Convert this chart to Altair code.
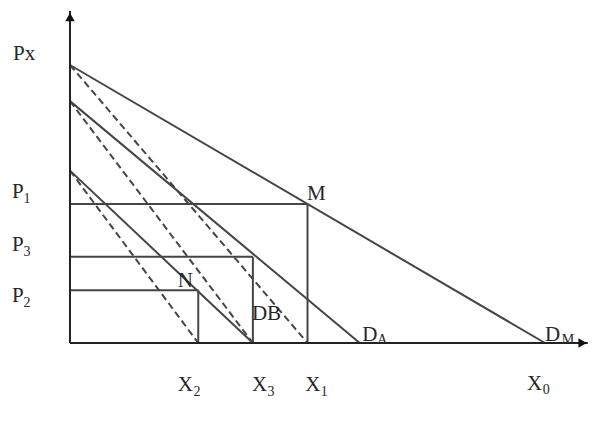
import altair as alt
import pandas as pd

# ---- economic values (quantity units, price units) ----
curve_names = ["DM", "MR_M", "DA", "MR_A", "DB", "MR_B"]
curve_p_intercept = [100, 100, 87, 87, 62, 62]
curve_q_intercept = [100, 50, 61, 38.5, 38.5, 27]
curve_dashed = [False, True, False, True, False, True]

# equilibrium boxes: price level and quantity
box_names = ["P1/X1", "P3/X3", "P2/X2"]
box_price = [50, 31, 19]
box_qty = [50, 38.5, 27]

# axes extents (arrow tips)
y_axis_top = 119.4
x_axis_right = 109.0

# labels: main glyphs and subscripts (text, q, p)
main_text = ["Px", "P", "P", "P", "X", "X", "X", "X", "M", "N", "DB", "D", "D"]
main_q = [-12.0, -12.2, -12.2, -12.2, 22.7, 38.3, 49.5, 96.2, 49.9, 22.7, 38.3, 61.5, 100.0]
main_p = [101.8, 52.2, 33.1, 14.7, -17.3, -17.3, -17.3, -16.9, 51.4, 20.1, 8.3, 0.7, 0.7]

sub_text = ["1", "3", "2", "2", "3", "1", "0", "A", "M"]
sub_q = [-9.8, -9.8, -9.8, 26.0, 41.6, 52.8, 99.5, 64.7, 103.5]
sub_p = [50.4, 31.3, 12.9, -18.9, -18.9, -18.9, -18.2, -0.3, -0.3]

XDOM = [-13.05, 109.68]
YDOM = [-27.34, 120.5]
W, H = 583, 411
LINE = "#454545"
TXT = "#262626"
FONT = "Liberation Serif"

xs = alt.Scale(domain=XDOM, nice=False, zero=False)
ys = alt.Scale(domain=YDOM, nice=False, zero=False)

curves = pd.DataFrame({
    "name": curve_names,
    "q0": [0] * len(curve_names),
    "p0": curve_p_intercept,
    "q1": curve_q_intercept,
    "p1": [0] * len(curve_names),
    "dashed": curve_dashed,
})

rows = []
for n, pr, qt in zip(box_names, box_price, box_qty):
    rows.append({"q0": 0, "p0": pr, "q1": qt, "p1": pr})
    rows.append({"q0": qt, "p0": pr, "q1": qt, "p1": 0})
boxes = pd.DataFrame(rows)

axes_df = pd.DataFrame({
    "q0": [0, 0], "p0": [0, 0],
    "q1": [0, x_axis_right], "p1": [y_axis_top, 0],
})
arrows = pd.DataFrame({
    "q": [0, x_axis_right - 1.1],
    "p": [y_axis_top - 2.2, 0],
    "shape": ["triangle-up", "triangle-right"],
})

mains = pd.DataFrame({"t": main_text, "q": main_q, "p": main_p})
subs = pd.DataFrame({"t": sub_text, "q": sub_q, "p": sub_p})

def enc_rule():
    return dict(
        x=alt.X("q0:Q", scale=xs, axis=None),
        y=alt.Y("p0:Q", scale=ys, axis=None),
        x2="q1:Q",
        y2="p1:Q",
    )

solid = alt.Chart(curves).transform_filter("!datum.dashed").mark_rule(
    color=LINE, strokeWidth=2).encode(**enc_rule())
dashed = alt.Chart(curves).transform_filter("datum.dashed").mark_rule(
    color=LINE, strokeWidth=2, strokeDash=[7, 4]).encode(**enc_rule())
box_layer = alt.Chart(boxes).mark_rule(color=LINE, strokeWidth=2).encode(**enc_rule())
axis_layer = alt.Chart(axes_df).mark_rule(color="#222222", strokeWidth=2).encode(**enc_rule())
arrow_layer = alt.Chart(arrows).mark_point(
    filled=True, color="#111111", size=90, opacity=1).encode(
    x=alt.X("q:Q", scale=xs, axis=None),
    y=alt.Y("p:Q", scale=ys, axis=None),
    shape=alt.Shape("shape:N", scale=None),
)

main_layer = alt.Chart(mains).mark_text(
    font=FONT, fontSize=21, color=TXT, align="left", baseline="alphabetic").encode(
    x=alt.X("q:Q", scale=xs, axis=None),
    y=alt.Y("p:Q", scale=ys, axis=None),
    text="t:N",
)
sub_layer = alt.Chart(subs).mark_text(
    font=FONT, fontSize=14, color=TXT, align="left", baseline="alphabetic").encode(
    x=alt.X("q:Q", scale=xs, axis=None),
    y=alt.Y("p:Q", scale=ys, axis=None),
    text="t:N",
)

chart = alt.layer(
    box_layer, solid, dashed, axis_layer, arrow_layer, main_layer, sub_layer
).properties(
    width=W, height=H,
    autosize=alt.AutoSizeParams(type="none"),
    padding=0,
).configure_view(stroke=None)

chart.save("out.html", embed_options={"renderer": "svg", "actions": False})
